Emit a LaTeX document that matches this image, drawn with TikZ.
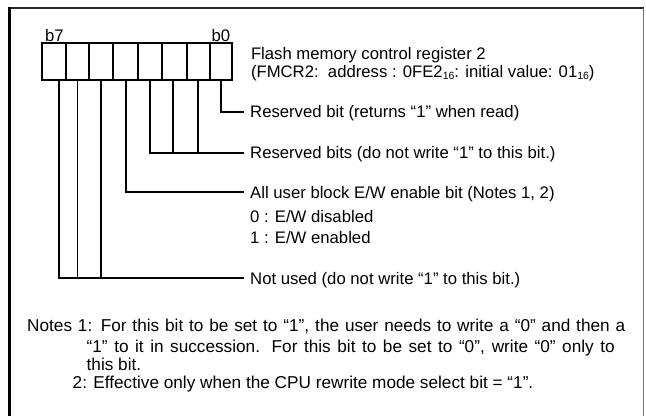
\documentclass[tikz,border=0pt]{standalone}
\usepackage{fontspec}
\setmainfont{Liberation Sans}
\newcommand\regfs{\fontsize{16.7}{19}\selectfont}
\newcommand\notefs{\fontsize{17.2}{19}\selectfont}
\newcommand\regsub[1]{\raisebox{-1.5pt}{\fontsize{10.5}{10}\selectfont #1}}
\begin{document}
\begin{tikzpicture}[x=1pt,y=-1pt,
  cell/.style={draw, line width=1.8pt, inner sep=0pt, minimum height=36.7pt},
  lead/.style={line width=1.9pt},
  lbl/.style={anchor=west, inner sep=0pt, inner xsep=6pt, text height=12pt, text depth=0pt, font=\regfs},
  txt/.style={anchor=base west, inner sep=0pt, font=\regfs},
  note/.style={anchor=base west, inner sep=0pt, font=\notefs}]
\useasboundingbox (0,0) rectangle (646,416);
% frame
\draw[line width=2pt, black!85] (8,8) -- (643.5,8);
\draw[line width=2.5pt] (9.5,7) -- (9.5,416);
\draw[line width=1pt, black!55] (643.5,8) -- (643.5,416);
% register cells
\foreach \i/\l/\r in {7/42.3/65.7, 6/65.7/89.3, 5/89.3/113.3, 4/113.3/138.3, 3/138.3/162.3, 2/162.3/186.7, 1/186.7/210, 0/210/231.7}{
  \pgfmathsetmacro\w{\r-\l}
  \pgfmathsetmacro\cx{(\l+\r)/2}
  \node[cell, minimum width=\w pt] (c\i) at (\cx,61.65) {};
}
\node[txt] (b7) at (45,41.7) {b7};
\node[txt] (b0) at (211.5,41.7) {b0};
% header
\node[txt] (title) at (250.8,59.5) {Flash memory control register 2};
\node[txt] (addr) at (250.8,77.5) {(FMCR2:\ \ address : 0FE2\regsub{16}: initial value: 01\regsub{16})};
% field labels
\node[lbl] (t0) at (244,111.7) {Reserved bit (returns “1” when read)};
\node[lbl] (t1) at (244,152.7) {Reserved bits (do not write “1” to this bit.)};
\node[lbl] (t2) at (244,192) {All user block E/W enable bit (Notes 1, 2)};
\node[lbl] (t2a) at (244,216) {0 : E/W disabled};
\node[lbl] (t2b) at (244,237) {1 : E/W enabled};
\node[lbl] (t3) at (244,278) {Not used (do not write “1” to this bit.)};
% leaders
\draw[lead] (c0.south) |- (t0.west);
\draw[lead] (c3.south) |- (t1.west);
\draw[lead] ([xshift=-1.2pt]c2.south) -- ([xshift=-1.2pt]c2.south |- t1.west);
\draw[lead] (c1.south) -- (c1.south |- t1.west);
\draw[lead] (c4.south) |- (t2.west);
\draw[lead] ([xshift=5.3pt]c7.south) |- (t3.west);
\draw[lead] (c6.south) -- (c6.south |- t3.west);
\draw[lead] (c5.south) -- (c5.south |- t3.west);
% notes
\node[note] (n1) at (27,331.7) {\makebox[598pt][s]{Notes 1: For this bit to be set to “1”, the user needs to write a “0” and then a}};
\node[note] (n1b) at (86.5,352) {\makebox[528pt][s]{“1” to it in succession. For this bit to be set to “0”, write “0” only to}};
\node[note] (n1c) at (86.5,370) {this bit.};
\node[note] (n2) at (72.5,388) {2: Effective only when the CPU rewrite mode select bit = “1”.};
\end{tikzpicture}
\end{document}
